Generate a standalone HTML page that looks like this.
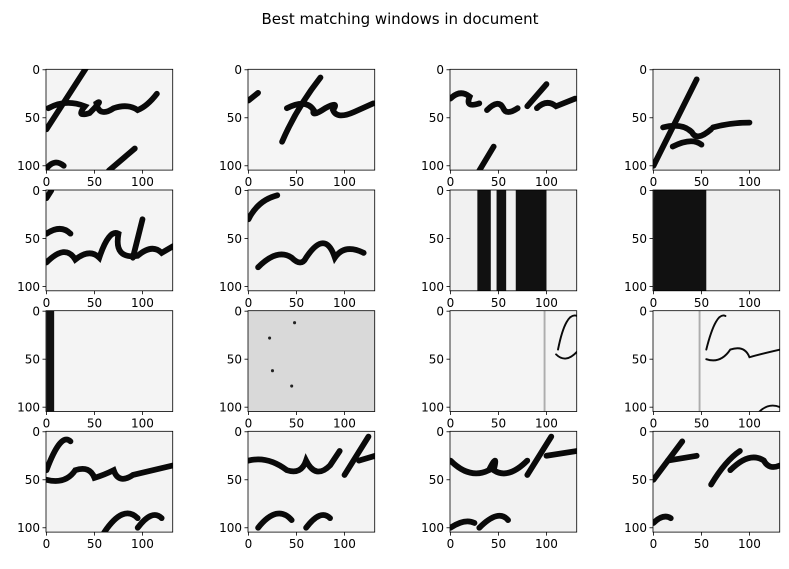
<!DOCTYPE html>
<html><head><meta charset="utf-8"><style>
html,body{margin:0;padding:0;background:#fff;}
body{width:789px;height:565px;overflow:hidden;font-family:"DejaVu Sans","Liberation Sans",sans-serif;}
</style></head><body>
<svg id="fig" width="789" height="565" viewBox="0 0 789 565" xmlns="http://www.w3.org/2000/svg" font-family="DejaVu Sans, Liberation Sans, sans-serif">
<rect width="789" height="565" fill="#fff"/>
<text x="400" y="24" font-size="15" text-anchor="middle" fill="#000">Best matching windows in document</text>
</svg>
<script>
const colLefts=[46,248,450,653];
const rowTops=[69.3,190,310.7,431.3];
const xTicks=[0,50,100];
const yTicks=[0,50,100];
const panelBg=['#f4f4f4','#f5f5f5','#f3f3f3','#efefef','#f4f4f4','#f2f2f2','#f1f1f1','#f0f0f0','#f4f4f4','#d9d9d9','#f4f4f4','#f4f4f4','#f3f3f3','#f3f3f3','#f2f2f2','#f1f1f1'];
const panelStrokes=[
 ['M0 62 L42 -3','M2 40 Q20 30 40 38 Q30 50 45 45 Q60 30 52 35 Q55 50 70 40 Q85 35 95 42 Q105 38 115 25','M65 105 L92 82','M0 103 Q8 92 18 100'],
 ['M0 32 L10 24','M35 75 Q50 40 75 8','M40 40 Q60 30 68 42 Q65 50 80 40 Q95 32 88 42 Q92 52 110 44 L130 35'],
 ['M0 30 Q10 20 20 28 Q15 40 30 35','M38 42 Q50 30 55 40 Q58 48 70 40','M80 38 L100 15','M90 40 Q100 30 110 38 L130 30','M30 105 L45 80'],
 ['M0 100 L45 10','M10 60 Q30 55 40 65 Q45 75 60 62','M62 60 Q80 55 100 55','M20 80 Q40 70 50 78'],
 ['M0 8 L5 0','M0 45 Q15 35 25 45','M0 75 Q20 55 30 72 Q45 60 55 70 Q65 40 75 45 Q70 72 95 68 Q110 55 120 65 L132 58','M90 70 L100 30'],
 ['M0 30 Q10 10 30 5','M10 80 Q30 60 45 70 Q55 80 60 70 Q80 40 90 70 Q100 55 120 65'],
 ['BAR 28 42','BAR 48 58','BAR 68 100'],
 ['BAR 0 55'],
 ['BAR 0 8'],
 ['DOT 22 28','DOT 25 62','DOT 45 78','DOT 48 12'],
 ['M98 0 L98 105','M112 40 Q120 0 132 5','M110 45 Q120 55 132 42'],
 ['M48 0 L48 105','M55 40 Q65 0 75 5','M55 50 Q70 55 80 40 Q95 35 100 48 Q110 45 132 40','M110 105 Q120 95 132 100'],
 ['M0 40 Q15 0 25 10','M0 50 Q20 55 30 40 Q45 35 50 48 Q60 45 70 40 Q75 55 90 45 L132 35','M60 105 Q80 75 95 90','M95 100 Q110 80 120 90'],
 ['M0 30 Q20 25 40 40 Q55 45 60 30 Q70 50 85 35 L95 20','M100 45 L125 5','M115 30 L132 25','M10 100 Q30 75 45 92','M60 100 Q75 80 85 90'],
 ['M0 30 Q20 50 40 40 Q50 20 45 40 Q60 50 80 30','M80 45 L105 5','M100 25 L132 20','M0 100 Q15 90 25 95','M30 100 Q50 80 60 92'],
 ['M0 50 L30 10','M15 30 L45 25','M60 55 Q75 30 90 20','M80 40 Q100 20 115 30 Q120 40 132 35','M0 95 Q10 85 18 90']
];
const svg=document.getElementById('fig');
const NS='http://www.w3.org/2000/svg';
const k=0.96, W=132, H=105;
function mk(t,a){const e=document.createElementNS(NS,t);for(const n in a)e.setAttribute(n,a[n]);return e;}
for(let i=0;i<16;i++){
 const r=Math.floor(i/4), c=i%4;
 const x0=colLefts[c], y0=rowTops[r];
 const g=mk('g',{transform:`translate(${x0},${y0})`});
 
 
 const clip=mk('clipPath',{id:'cp'+i});clip.appendChild(mk('rect',{x:0,y:0,width:W*k,height:H*k}));g.appendChild(clip);
 const img=mk('g',{'clip-path':`url(#cp${i})`});
 
 
 img.appendChild(mk('rect',{x:0,y:0,width:W*k,height:H*k,fill:panelBg[i]}));
 const inner=mk('g',{transform:`scale(${k}) translate(0.5,0.5)`});
 panelStrokes[i].forEach(s=>{
  let e;
  if(s.startsWith('BAR')){const p=s.split(' ');const a=+p[1],b=+p[2];e=mk('rect',{x:a,y:-1,width:b-a,height:H+2,fill:'#111'});}
  else if(s.startsWith('DOT')){const p=s.split(' ');e=mk('circle',{cx:+p[1],cy:+p[2],r:1.6,fill:'#222'});}
  else e=mk('path',{d:s,fill:'none',stroke:'#0a0a0a','stroke-width':i===10||i===11?2:6,'stroke-linecap':'round','stroke-opacity':(i===10||i===11)&&s.startsWith('M4')||s==='M98 0 L98 105'?0.3:1});
  
  
  inner.appendChild(e);
 });
 img.appendChild(inner);g.appendChild(img);
 g.appendChild(mk('rect',{x:0,y:0,width:W*k,height:H*k,fill:'none',stroke:'#000','stroke-width':0.8}));
 xTicks.forEach(v=>{const x=(v+0.5)*k;
  g.appendChild(mk('line',{x1:x,y1:H*k,x2:x,y2:H*k+3.5,stroke:'#000','stroke-width':0.8}));
  const t=mk('text',{x:x,y:H*k+16,'font-size':12,'text-anchor':'middle',fill:'#000'});t.textContent=v;
  
  
  g.appendChild(t);});
 yTicks.forEach(v=>{const y=(v+0.5)*k;
  g.appendChild(mk('line',{x1:0,y1:y,x2:-3.5,y2:y,stroke:'#000','stroke-width':0.8}));
  const t=mk('text',{x:-6,y:y+4.3,'font-size':12,'text-anchor':'end',fill:'#000'});t.textContent=v;
  
  
  g.appendChild(t);});
 svg.appendChild(g);
}
</script>
</body></html>
